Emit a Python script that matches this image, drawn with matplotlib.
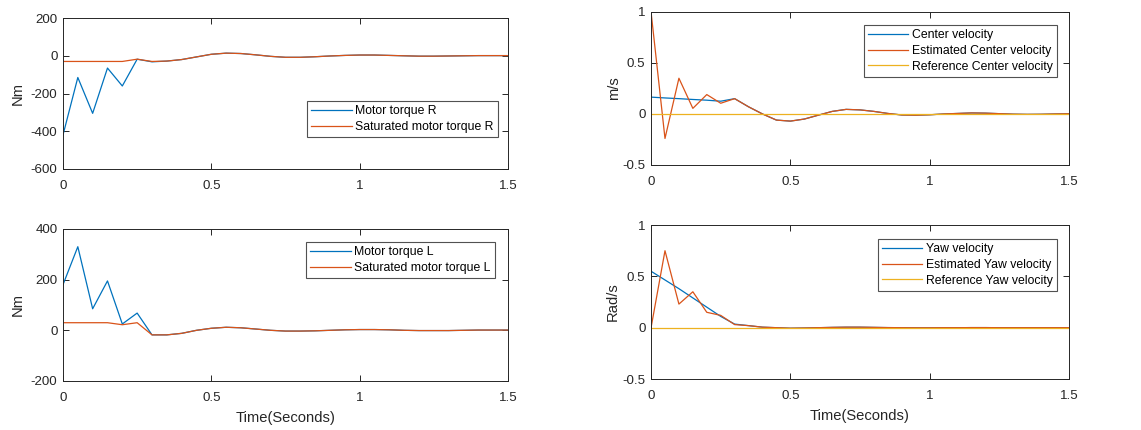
import matplotlib
matplotlib.use("Agg")
import matplotlib.pyplot as plt
import numpy as np

plt.rcParams['font.family'] = ['Liberation Sans', 'DejaVu Sans']
plt.rcParams['axes.unicode_minus'] = False

t = [0.00, 0.05, 0.10, 0.15, 0.20, 0.25, 0.30, 0.35, 0.40, 0.45, 0.50, 0.55, 0.60, 0.65,
     0.70, 0.75, 0.80, 0.85, 0.90, 0.95, 1.00, 1.05, 1.10, 1.15, 1.20, 1.25, 1.30, 1.35,
     1.40, 1.45, 1.50]

torque_R = [-420, -115, -305, -65, -160, -18, -32, -28, -20, -6, 8, 14, 12, 5,
            -3, -8, -8, -5, -1, 2, 4, 4, 2, 0, -2, -2, -1, 0, 1, 1, 1]
sat_torque_R = [-30, -30, -30, -30, -30, -18, -30, -28, -20, -6, 8, 14, 12, 5,
                -3, -8, -8, -5, -1, 2, 4, 4, 2, 0, -2, -2, -1, 0, 1, 1, 1]

torque_L = [180, 330, 85, 195, 25, 68, -18, -18, -12, 0, 8, 12, 10, 5,
            0, -3, -3, -2, 0, 2, 3, 3, 2, 0, -1, -1, -1, 0, 1, 1, 1]
sat_torque_L = [30, 30, 30, 30, 22, 30, -18, -18, -12, 0, 8, 12, 10, 5,
                0, -3, -3, -2, 0, 2, 3, 3, 2, 0, -1, -1, -1, 0, 1, 1, 1]

center_vel = [0.165, 0.157, 0.150, 0.142, 0.135, 0.125, 0.150, 0.070, 0.000, -0.060, -0.070,
              -0.050, -0.012, 0.025, 0.045, 0.040, 0.025, 0.005, -0.010, -0.012, -0.008, 0.000,
              0.005, 0.010, 0.008, 0.003, -0.002, -0.004, -0.003, 0.000, 0.002]
est_center_vel = [1.00, -0.24, 0.35, 0.055, 0.19, 0.105, 0.150, 0.070, 0.000, -0.060, -0.070,
                  -0.050, -0.012, 0.025, 0.045, 0.040, 0.025, 0.005, -0.010, -0.012, -0.008, 0.000,
                  0.005, 0.010, 0.008, 0.003, -0.002, -0.004, -0.003, 0.000, 0.002]
ref_center_vel = [0.0] * 31

yaw_vel = [0.55, 0.465, 0.38, 0.29, 0.20, 0.11, 0.035, 0.020, 0.005, 0.000, -0.005, -0.003,
           0.000, 0.003, 0.005, 0.005, 0.003, 0.001, 0.000, -0.001, -0.001, 0.000, 0.000,
           0.001, 0.001, 0.000, 0.000, 0.000, 0.000, 0.000, 0.000]
est_yaw_vel = [0.00, 0.75, 0.23, 0.35, 0.15, 0.12, 0.030, 0.020, 0.005, 0.000, -0.005, -0.003,
               0.000, 0.003, 0.005, 0.005, 0.003, 0.001, 0.000, -0.001, -0.001, 0.000, 0.000,
               0.001, 0.001, 0.000, 0.000, 0.000, 0.000, 0.000, 0.000]
ref_yaw_vel = [0.0] * 31

C1, C2, C3 = '#0072BD', '#D95319', '#EDB120'
LW = 0.9
TXT = '#262626'

fig = plt.figure(figsize=(11.41, 4.30), dpi=100)
ax_tl = fig.add_axes([0.0552, 0.607, 0.390, 0.351])
ax_bl = fig.add_axes([0.0552, 0.114, 0.390, 0.3535])
ax_tr = fig.add_axes([0.5706, 0.6163, 0.3663, 0.356])
ax_br = fig.add_axes([0.5706, 0.1186, 0.3663, 0.358])


def style(ax, ylim, yticks):
    ax.set_xlim(0, 1.5)
    ax.set_ylim(*ylim)
    ax.set_xticks([0, 0.5, 1, 1.5])
    ax.set_xticklabels(['0', '0.5', '1', '1.5'])
    ax.set_yticks(yticks)
    ax.tick_params(direction='in', top=True, right=True, labelsize=9.6,
                   length=4, width=0.7, colors=TXT)
    ax.tick_params(axis='x', pad=8)
    ax.tick_params(axis='y', pad=4)
    for s in ax.spines.values():
        s.set_linewidth(0.7)
        s.set_color(TXT)


def legend(ax, x1, y1):
    leg = ax.legend(loc='upper right', bbox_to_anchor=(x1 / 1141, 1 - y1 / 430),
                    bbox_transform=fig.transFigure, fontsize=8.8, frameon=True,
                    fancybox=False, edgecolor=TXT, handlelength=3.3,
                    borderpad=0.35, labelspacing=0.3, handletextpad=0.3, borderaxespad=0)
    leg.get_frame().set_linewidth(0.8)


ax_tl.plot(t, torque_R, color=C1, lw=LW, label='Motor torque R')
ax_tl.plot(t, sat_torque_R, color=C2, lw=LW, label='Saturated motor torque R')
style(ax_tl, (-600, 200), [-600, -400, -200, 0, 200])
ax_tl.set_ylabel('Nm', fontsize=10.6, color=TXT)
legend(ax_tl, 498, 101)

ax_bl.plot(t, torque_L, color=C1, lw=LW, label='Motor torque L')
ax_bl.plot(t, sat_torque_L, color=C2, lw=LW, label='Saturated motor torque L')
style(ax_bl, (-200, 400), [-200, 0, 200, 400])
ax_bl.set_ylabel('Nm', fontsize=10.6, color=TXT)
ax_bl.set_xlabel('Time(Seconds)', fontsize=10.6, color=TXT, labelpad=5)
legend(ax_bl, 495, 242)

ax_tr.plot(t, center_vel, color=C1, lw=LW, label='Center velocity')
ax_tr.plot(t, est_center_vel, color=C2, lw=LW, label='Estimated Center velocity')
ax_tr.plot(t, ref_center_vel, color=C3, lw=LW, label='Reference Center velocity')
style(ax_tr, (-0.5, 1), [-0.5, 0, 0.5, 1])
ax_tr.set_yticklabels(['-0.5', '0', '0.5', '1'])
ax_tr.set_ylabel('m/s', fontsize=10.6, color=TXT, labelpad=1)
legend(ax_tr, 1057, 25)

ax_br.plot(t, yaw_vel, color=C1, lw=LW, label='Yaw velocity')
ax_br.plot(t, est_yaw_vel, color=C2, lw=LW, label='Estimated Yaw velocity')
ax_br.plot(t, ref_yaw_vel, color=C3, lw=LW, label='Reference Yaw velocity')
style(ax_br, (-0.5, 1), [-0.5, 0, 0.5, 1])
ax_br.set_yticklabels(['-0.5', '0', '0.5', '1'])
ax_br.set_ylabel('Rad/s', fontsize=10.6, color=TXT, labelpad=2)
ax_br.set_xlabel('Time(Seconds)', fontsize=10.6, color=TXT, labelpad=5)
legend(ax_br, 1057, 239)

fig.savefig('out.png', dpi=100)
